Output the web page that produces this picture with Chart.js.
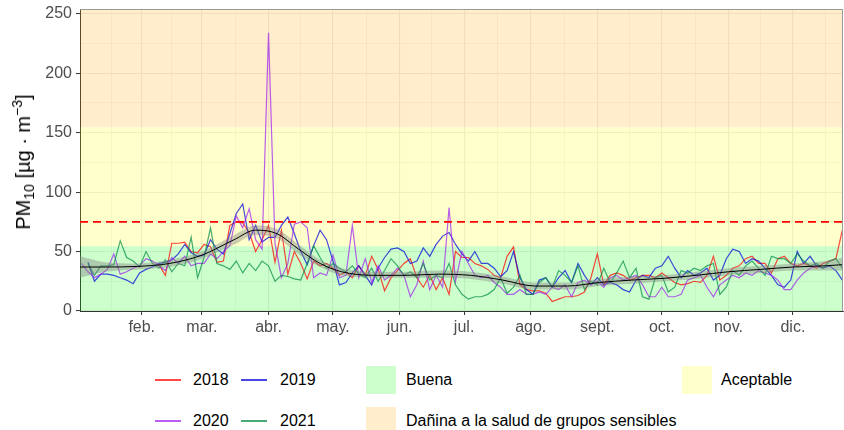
<!DOCTYPE html>
<html><head><meta charset="utf-8">
<script src="https://cdn.jsdelivr.net/npm/chart.js@4/dist/chart.umd.min.js"></script>
<style>
html,body{margin:0;padding:0;background:#fff;width:844px;height:430px;overflow:hidden;font-family:"Liberation Sans",Arial,sans-serif;}
#c{position:absolute;left:0;top:0;}
.ytitle{position:absolute;left:23px;top:162px;transform:translate(-50%,-50%) rotate(-90deg);font-size:20px;white-space:nowrap;color:#000;}
.ytitle sub{font-size:14px;vertical-align:-4px;}
.ytitle sup{font-size:14px;vertical-align:8px;}
.lk{position:absolute;width:26px;height:1.5px;}
.lt{position:absolute;font-size:16px;line-height:18px;color:#000;white-space:nowrap;}
.fk{position:absolute;width:30px;height:28px;}
</style></head>
<body>
<canvas id="c" width="844" height="345"></canvas>
<div class="ytitle">PM<sub>10</sub> [µg · m<sup>−3</sup>]</div>
<div id="legend"></div>
<script>
// ---- data (day of year, sampling every 3rd day) ----
const sampleDays = [4,7,10,13,16,19,22,25,28,31,34,37,40,43,46,49,52,55,58,61,64,67,70,73,76,79,82,85,88,91,94,97,100,103,106,109,112,115,118,121,124,127,130,133,136,139,142,145,148,151,154,157,160,163,166,169,172,175,178,181,184,187,190,193,196,199,202,205,208,211,214,217,220,223,226,229,232,235,238,241,244,247,250,253,256,259,262,265,268,271,274,277,280,283,286,289,292,295,298,301,304,307,310,313,316,319,322,325,328,331,334,337,340,343,346,349,352,355,358];

const pm2018 = [null,null,null,null,null,null,null,null,null,null,
  null,null,39,30,57,57,58,50,49,
  56,54,41,42,72,75,74,66,50,60,72,
  41,68,31,50,40,27,42,38,40,36,
  30,33,28,38,30,46,35,17,28,34,
  40,44,28,20,30,18,28,14,50,45,
  45,40,38,35,30,28,46,54,22,18,
  17,17,15,8,10,12,12,13,16,28,
  48,22,30,32,30,26,28,30,30,28,
  32,28,24,22,23,25,24,30,46,26,
  30,36,38,44,46,40,40,32,44,46,
  40,38,40,38,36,40,42,44,68];

const pm2019 = [null,41,25,31,31,30,28,26,23,32,
  35,37,40,41,43,48,56,49,46,
  47,60,52,48,65,82,90,60,72,58,62,
  62,72,79,65,50,39,55,68,60,42,
  22,24,32,38,30,22,36,45,52,53,
  50,40,42,53,46,56,63,66,56,48,
  42,50,40,40,36,29,34,50,28,18,
  14,26,28,20,28,34,24,40,30,22,
  28,22,24,22,18,16,26,30,28,36,
  38,46,36,28,34,30,32,36,26,30,
  44,52,50,40,44,42,36,30,22,20,
  26,50,40,46,38,36,38,34,26];

const pm2020 = [40,33,28,31,35,48,31,33,36,38,
  44,42,38,34,45,40,46,38,40,
  40,48,44,50,55,80,70,86,60,52,234,
  57,28,40,73,75,70,28,32,30,47,
  28,30,72,28,44,24,38,26,30,36,
  30,12,22,42,18,30,20,87,25,50,
  40,30,28,30,24,20,14,14,18,14,
  14,16,14,20,18,22,12,24,26,22,
  25,20,28,30,26,28,30,22,12,12,
  20,12,12,14,26,28,30,20,12,22,
  26,30,28,32,30,34,32,30,26,18,
  18,26,32,36,38,null,null,null,null];

const pm2021 = [null,40,30,38,38,39,59,45,42,37,
  50,40,36,43,33,40,38,62,28,
  45,70,40,38,35,42,32,40,34,42,38,
  25,30,29,27,26,40,55,45,36,40,
  36,33,38,31,28,36,25,34,44,38,
  30,33,28,40,26,30,28,40,22,14,
  10,12,12,14,18,28,15,20,30,14,
  14,24,28,20,34,30,24,38,18,25,
  22,36,24,32,42,28,36,12,10,28,
  30,16,20,34,32,36,34,38,40,14,
  20,34,30,38,42,36,30,46,44,44,
  40,48,42,38,40,36,42,44,36];

// smoothed trend (loess) and its confidence band
const smoothDays = [3.3,15,30,45,60,75,85,95,105,115,125,140,155,170,185,200,215,230,245,260,275,290,305,320,335,350,358.3];
const smoothFit  = [37,37,37.5,40,47,60,68,65,52,40,33,30,30,31,30,26,21,21,24,26,27.5,30,33,35,37,38,39];
const smoothLo   = [28,33,35,37,44,56,64,61,48,37,30,28,28,28,27,23,18,18,21,23,25,27,30,32,34,34,34];
const smoothHi   = [46,41,40,43,50,64,72,69,56,43,36,33,33,34,33,29,24,24,27,29,30,33,36,38,40,42,45];

const limitValue = 75;
const bandLow  = [0, 54.5, 154.5];
const bandHigh = [54.5, 154.5, 254];
const bandNames = ['Buena','Aceptable','Dañina a la salud de grupos sensibles'];

const monthDays   = [32,60,91,121,152,182,213,244,274,305,335];
const monthLabels = ['feb.','mar.','abr.','may.','jun.','jul.','ago.','sept.','oct.','nov.','dic.'];
const yTicks = [0,25,50,75,100,125,150,175,200,225,250];
const xMin = 3.28, xMax = 358.3, yMin = 0, yMax = 254;

// ---- styles ----
const seriesColors = {
  '2018':'rgba(255,0,0,0.72)',
  '2019':'rgba(0,0,220,0.72)',
  '2020':'rgba(160,32,240,0.72)',
  '2021':'rgba(0,139,69,0.72)'
};
const bandColors = ['rgba(0,255,0,0.2)','rgba(255,255,0,0.2)','rgba(255,165,0,0.2)'];
const FONT = '"Liberation Sans", Arial, sans-serif';

// minor x breaks: midpoints between major breaks (plus one beyond each end)
const xMinor = [];
xMinor.push(monthDays[0] - (monthDays[1]-monthDays[0])/2);
for (let i=0;i<monthDays.length-1;i++) xMinor.push((monthDays[i]+monthDays[i+1])/2);
const nM = monthDays.length;
xMinor.push(monthDays[nM-1] + (monthDays[nM-1]-monthDays[nM-2])/2);
const xAllTicks = [...monthDays, ...xMinor].sort((a,b)=>a-b);

const pts = (xs, ys) => xs.map((x,i)=>({x, y: ys[i]}));
const lineDs = (label, vals, order) => ({
  label, data: pts(sampleDays, vals), borderColor: seriesColors[label],
  borderWidth: 1.2, pointRadius: 0, tension: 0, spanGaps: false, fill: false, order
});

const bandPlugin = {
  id: 'bands',
  beforeDatasetsDraw(chart){
    const {ctx, chartArea:a, scales:{y}} = chart;
    ctx.save();
    for (let i=0;i<bandLow.length;i++){
      const t = y.getPixelForValue(bandHigh[i]), b = y.getPixelForValue(bandLow[i]);
      ctx.fillStyle = bandColors[i];
      ctx.fillRect(a.left, t, a.right-a.left, b-t);
    }
    ctx.restore();
  },
  afterDraw(chart){
    const {ctx, chartArea:a} = chart;
    ctx.save();
    ctx.strokeStyle = '#9a9a9a'; ctx.lineWidth = 1;
    ctx.beginPath();
    ctx.moveTo(a.left, Math.round(a.top)+0.5); ctx.lineTo(a.right, Math.round(a.top)+0.5);
    ctx.moveTo(Math.round(a.right)-0.5, a.top); ctx.lineTo(Math.round(a.right)-0.5, a.bottom);
    ctx.stroke();
    ctx.restore();
  }
};

const isMajorX = v => monthDays.includes(v);
const isMajorY = v => v % 50 === 0;

new Chart(document.getElementById('c'), {
  type: 'line',
  data: {
    datasets: [
      {label:'limit', data: pts([xMin,xMax],[limitValue,limitValue]), borderColor:'#ff0000', borderWidth:1.8, borderDash:[8,5], pointRadius:0, fill:false, order:0},
      {label:'trend', data: pts(smoothDays, smoothFit), borderColor:'#000', borderWidth:1, pointRadius:0, cubicInterpolationMode:'monotone', fill:false, order:1},
      {label:'ciLo', data: pts(smoothDays, smoothLo), borderColor:'rgba(0,0,0,0)', borderWidth:0, pointRadius:0, cubicInterpolationMode:'monotone', fill:false, order:3},
      {label:'ciHi', data: pts(smoothDays, smoothHi), borderColor:'rgba(0,0,0,0)', borderWidth:0, pointRadius:0, cubicInterpolationMode:'monotone', fill:'-1', backgroundColor:'rgba(130,130,130,0.42)', order:2},
      lineDs('2021', pm2021, 4),
      lineDs('2020', pm2020, 5),
      lineDs('2019', pm2019, 6),
      lineDs('2018', pm2018, 7)
    ]
  },
  options: {
    responsive: false, animation: false, devicePixelRatio: 1,
    layout: {padding: {top: 9, right: 1, left: 0, bottom: 0}},
    plugins: {legend:{display:false}, tooltip:{enabled:false}},
    scales: {
      x: {
        type:'linear', min:xMin, max:xMax,
        afterBuildTicks: s => { s.ticks = xAllTicks.map(v=>({value:v})); },
        afterFit: s => { s.height = 34; s.paddingLeft = 0; s.paddingRight = 0; },
        ticks: {autoSkip:false, maxRotation:0, padding:3, color:'#4d4d4d',
          font:{family:FONT, size:16},
          callback: v => { const i = monthDays.indexOf(v); return i>=0 ? monthLabels[i] : ''; }},
        grid: {color:'#ebebeb', lineWidth: c => (c.tick && isMajorX(c.tick.value)) ? 1.1 : 0.6,
          tickColor: c => (c.tick && isMajorX(c.tick.value)) ? '#333' : 'rgba(0,0,0,0)', tickLength:4, tickWidth:1},
        border: {display:true, color:'#333', width:1}
      },
      y: {
        min:yMin, max:yMax,
        afterBuildTicks: s => { s.ticks = yTicks.map(v=>({value:v})); },
        afterFit: s => { s.width = 80; s.paddingTop = 0; s.paddingBottom = 0; },
        ticks: {padding:4, color:'#4d4d4d', font:{family:FONT, size:16},
          callback: v => isMajorY(v) ? String(v) : ''},
        grid: {color:'#ebebeb', lineWidth: c => (c.tick && isMajorY(c.tick.value)) ? 1.1 : 0.6,
          tickColor: c => (c.tick && isMajorY(c.tick.value)) ? '#333' : 'rgba(0,0,0,0)', tickLength:4, tickWidth:1},
        border: {display:true, color:'#333', width:1}
      }
    }
  },
  plugins: [bandPlugin]
});

// ---- legend (HTML) ----
const lg = document.getElementById('legend');
const add = (cls, style, html) => { const d=document.createElement('div'); d.className=cls; d.style.cssText=style; if(html) d.innerHTML=html; lg.appendChild(d); };
const lineKeys = [['2018',155,380,193],['2019',241,380,280],['2020',155,421,193],['2021',241,421,280]];
lineKeys.forEach(([k,x,y,tx])=>{
  add('lk', `left:${x}px;top:${y-0.75}px;background:${seriesColors[k]};`);
  add('lt', `left:${tx}px;top:${y-9}px;`, k);
});
const fillKeys = [[0,366,380,406],[1,682,380,721],[2,366,421,406]];
fillKeys.forEach(([i,x,y,tx])=>{
  add('fk', `left:${x}px;top:${y-14}px;background:${bandColors[i]};`);
  add('lt', `left:${tx}px;top:${y-9}px;`, bandNames[i]);
});
</script>
</body></html>
